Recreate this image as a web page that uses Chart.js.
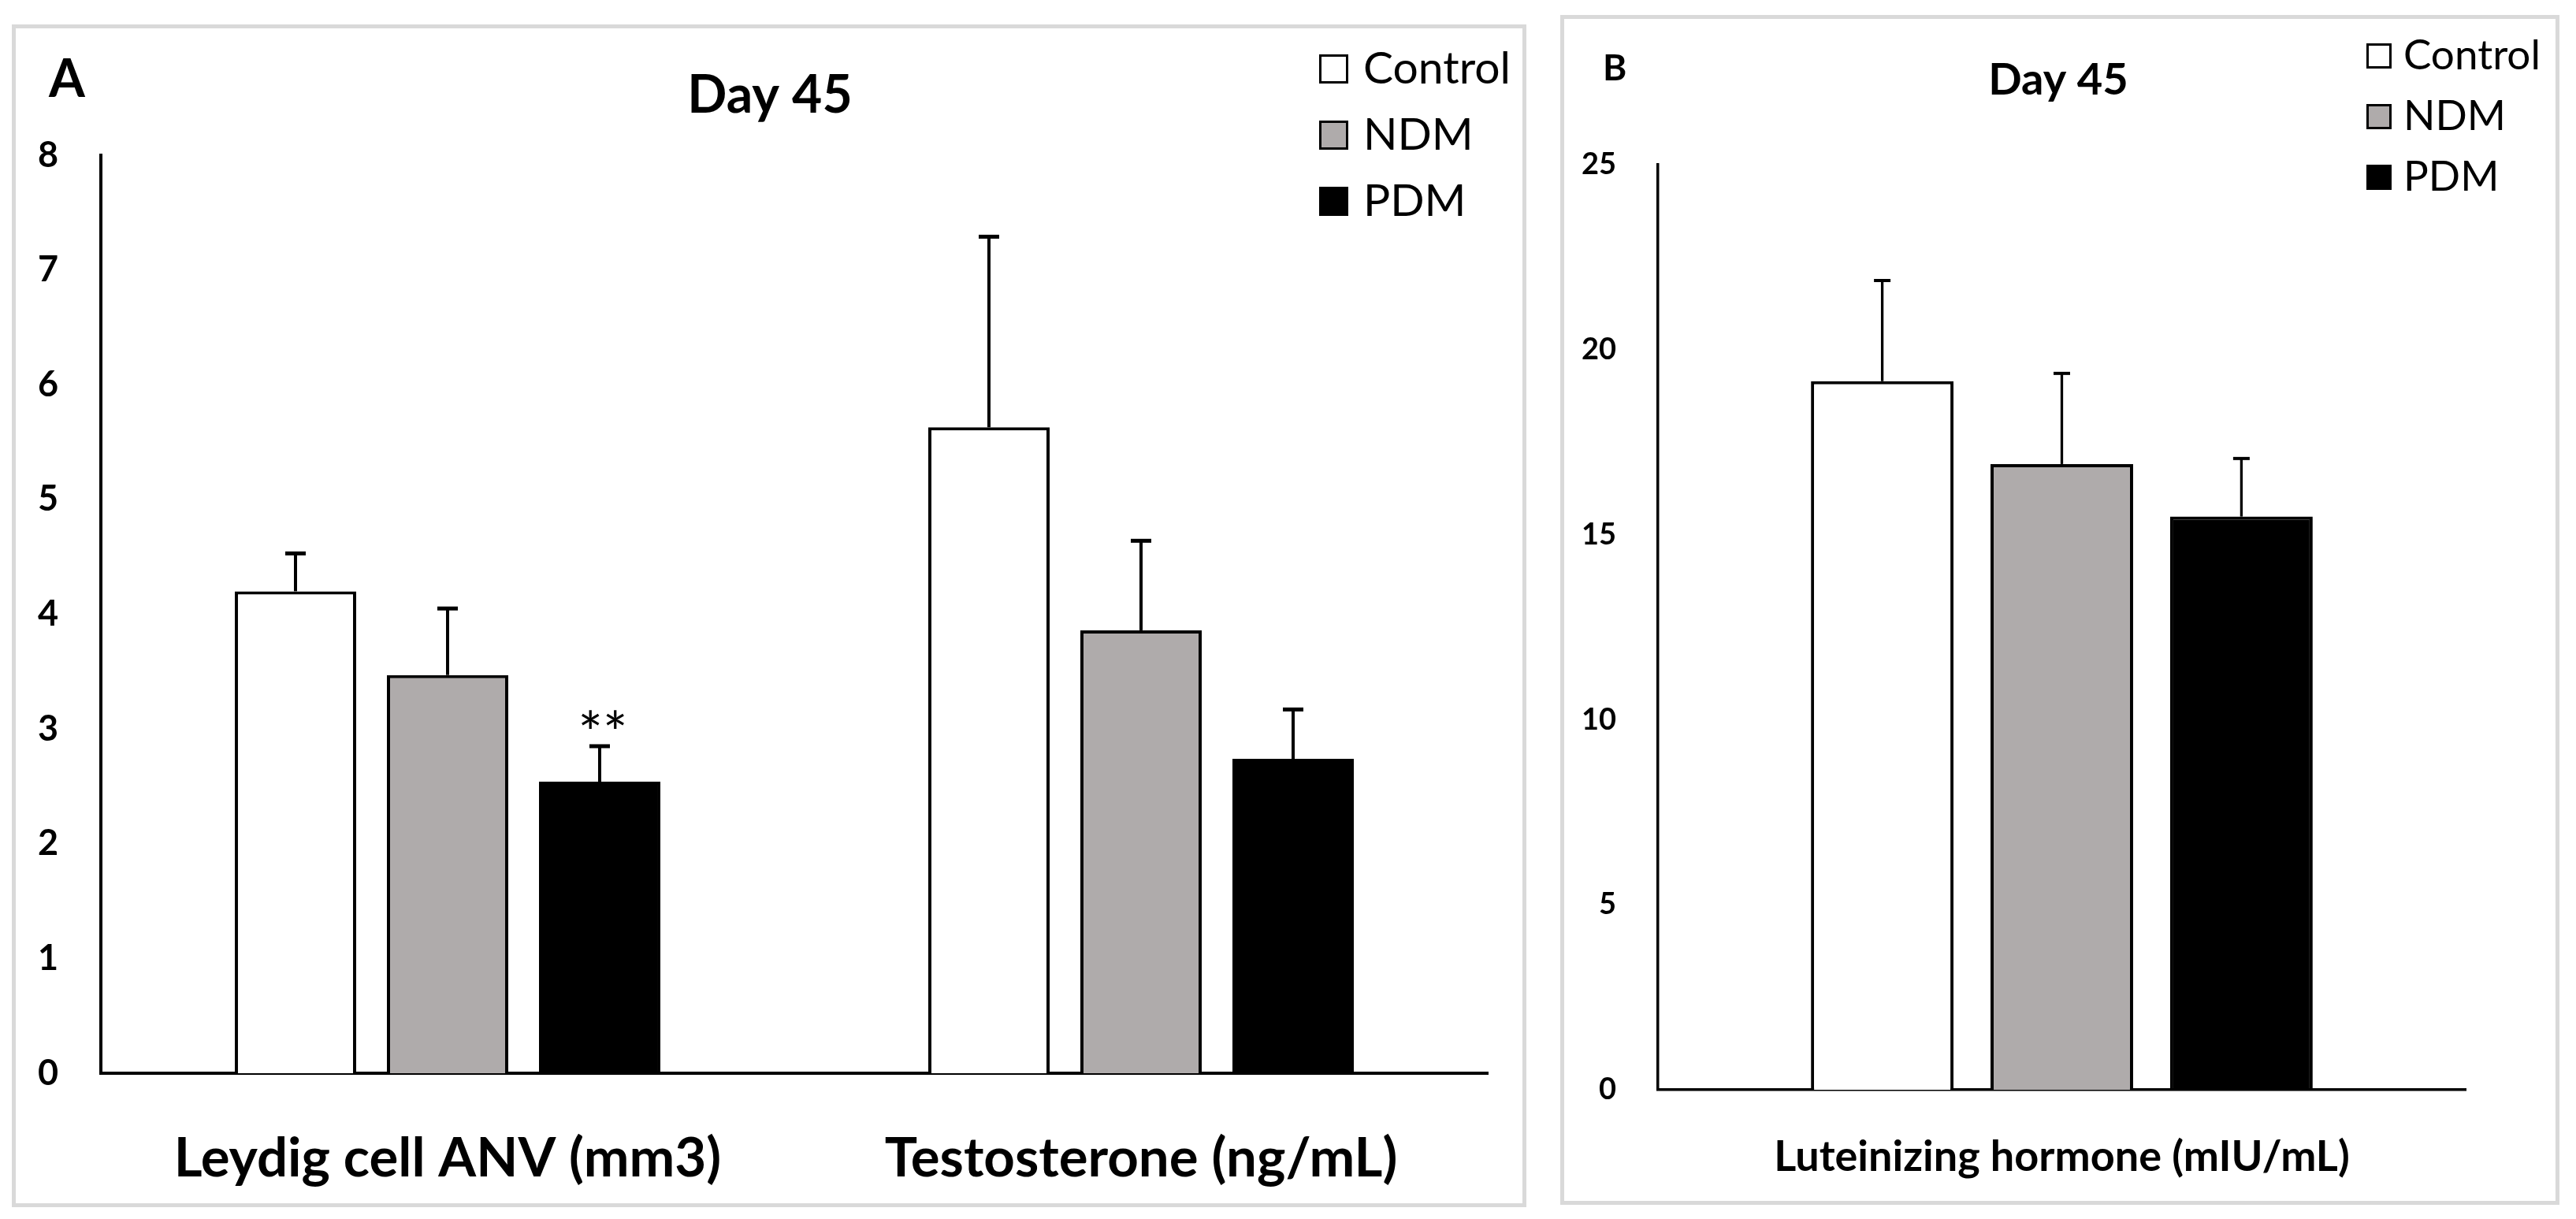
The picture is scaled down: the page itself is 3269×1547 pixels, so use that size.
<!DOCTYPE html>
<html><head><meta charset="utf-8">
<script src="https://cdn.jsdelivr.net/npm/chart.js@4.4.1/dist/chart.umd.min.js"></script>
<style>
html,body{margin:0;padding:0;background:#fff;width:3269px;height:1547px;overflow:hidden;position:relative}
.frame{position:absolute;box-sizing:border-box;border:5px solid #d9d9d9}
canvas{position:absolute}
</style></head><body>
<div class="frame" style="left:15px;top:31px;width:1922px;height:1501px"></div>
<div class="frame" style="left:1980px;top:19px;width:1268px;height:1510px"></div>
<canvas id="cA" width="1918" height="1497" style="left:17px;top:33px;width:1918px;height:1497px"></canvas>
<canvas id="cB" width="1263" height="1505" style="left:1982px;top:21px;width:1263px;height:1505px"></canvas>
<script>
// ---- data ----
const seriesNames = ["Control", "NDM", "PDM"];
const seriesColors = ["#FFFFFF", "#AFABAB", "#000000"];

const categoriesA = ["Leydig cell ANV (mm3)", "Testosterone (ng/mL)"];
const controlA = [4.20, 5.63];
const ndmA = [3.47, 3.86];
const pdmA = [2.54, 2.74];
const errControlA = [0.33, 1.66];
const errNdmA = [0.58, 0.78];
const errPdmA = [0.31, 0.43];
const sigPdmA = ["**", ""];
const yTicksA = {min: 0, max: 8, step: 1};

const categoriesB = ["Luteinizing hormone (mIU/mL)"];
const controlB = [19.15];
const ndmB = [16.91];
const pdmB = [15.49];
const errControlB = [2.72];
const errNdmB = [2.45];
const errPdmB = [1.57];
const yTicksB = {min: 0, max: 25, step: 5};

const FONT = "Lato, 'Open Sans', sans-serif";

const decor = {
  id: 'decor',
  afterDatasetsDraw(chart, args, o) {
    const ctx = chart.ctx, ys = chart.scales.y;
    chart.data.datasets.forEach((ds, di) => {
      const meta = chart.getDatasetMeta(di);
      meta.data.forEach((bar, i) => {
        const v = ds.data[i], e = ds.errors[i];
        const yTop = ys.getPixelForValue(v + e), yBar = ys.getPixelForValue(v);
        ctx.save();
        ctx.strokeStyle = '#000';
        ctx.lineWidth = o.errLine;
        ctx.beginPath(); ctx.moveTo(bar.x, yBar); ctx.lineTo(bar.x, yTop); ctx.stroke();
        ctx.lineWidth = o.capLine;
        ctx.beginPath(); ctx.moveTo(bar.x - o.capHalf, yTop); ctx.lineTo(bar.x + o.capHalf, yTop); ctx.stroke();
        const s = ds.sig && ds.sig[i];
        if (s) {
          ctx.fillStyle = '#000';
          ctx.font = o.sigFont;
          ctx.textAlign = 'center';
          ctx.textBaseline = 'alphabetic';
          ctx.fillText(s, bar.x + o.sigDx, yTop + o.sigDy);
        }
        ctx.restore();
      });
    });
  },
  afterDraw(chart, args, o) {
    const ctx = chart.ctx;
    ctx.save();
    ctx.fillStyle = '#000';
    ctx.textBaseline = 'alphabetic';
    ctx.font = o.letterFont; ctx.textAlign = 'left';
    ctx.fillText(o.letter, o.letterX, o.letterY);
    ctx.font = o.titleFont; ctx.textAlign = 'center';
    ctx.fillText(o.title, o.titleX, o.titleY);
    // legend
    chart.data.datasets.forEach((ds, di) => {
      const y = o.legY + di * o.legRow;
      ctx.fillStyle = ds.backgroundColor;
      ctx.fillRect(o.legX, y, o.legBox, o.legBox);
      ctx.strokeStyle = '#000'; ctx.lineWidth = o.legLine;
      ctx.strokeRect(o.legX + o.legLine / 2, y + o.legLine / 2, o.legBox - o.legLine, o.legBox - o.legLine);
      ctx.fillStyle = '#000';
      ctx.font = o.legFont; ctx.textAlign = 'left'; ctx.textBaseline = 'middle';
      ctx.fillText(ds.label, o.legTextX, y + o.legBox / 2);
    });
    ctx.restore();
  }
};

function makeChart(id, cats, vals, errs, sigs, yt, cfg) {
  const datasets = seriesNames.map((n, i) => ({
    label: n,
    data: vals[i],
    errors: errs[i],
    sig: sigs[i],
    backgroundColor: seriesColors[i],
    borderColor: '#000',
    borderWidth: cfg.barBorder,
    categoryPercentage: cfg.catPct,
    barPercentage: cfg.barPct
  }));
  return new Chart(document.getElementById(id), {
    type: 'bar',
    data: {labels: cats, datasets},
    options: {
      responsive: false, animation: false, devicePixelRatio: 1,
      layout: {padding: cfg.padding},
      plugins: {legend: {display: false}, tooltip: {enabled: false}, title: {display: false}, decor: cfg.decor},
      scales: {
        x: {
          grid: {display: false},
          border: {display: true, color: '#000', width: cfg.axisWidth},
          ticks: {color: '#000', font: {family: FONT, weight: 'bold', size: cfg.xFont}, padding: cfg.xPad, maxRotation: 0, autoSkip: false},
          afterFit: s => { s.height = cfg.xH; }
        },
        y: {
          min: yt.min, max: yt.max,
          grid: {display: false},
          border: {display: true, color: '#000', width: cfg.axisWidth},
          ticks: {stepSize: yt.step, color: '#000', font: {family: FONT, weight: 'bold', size: cfg.yFont}, padding: cfg.yPad},
          afterFit: s => { s.width = cfg.yW; }
        }
      }
    },
    plugins: [decor]
  });
}

makeChart('cA', categoriesA, [controlA, ndmA, pdmA], [errControlA, errNdmA, errPdmA], [null, null, sigPdmA], yTicksA, {
  barBorder: 4, catPct: 0.658, barPct: 0.798, axisWidth: 4,
  padding: {left: 11, right: 47, top: 164, bottom: 18},
  xFont: 69, xPad: 59, xH: 150, yFont: 45, yPad: 46, yW: 100,
  decor: {
    errLine: 4, capLine: 5, capHalf: 13, sigFont: "74px " + FONT, sigDx: 4, sigDy: 10,
    letter: 'A', letterFont: "bold 66px " + FONT, letterX: 45, letterY: 90,
    title: 'Day 45', titleFont: "bold 66px " + FONT, titleX: 960, titleY: 110,
    legX: 1657, legY: 36, legRow: 84, legBox: 37, legLine: 3, legTextX: 1713, legFont: "57px " + FONT
  }
});

makeChart('cB', categoriesB, [controlB, ndmB, pdmB], [errControlB, errNdmB, errPdmB], [null, null, null], yTicksB, {
  barBorder: 4, catPct: 0.667, barPct: 0.794, axisWidth: 3.5,
  padding: {left: 22, right: 116, top: 188, bottom: 13},
  xFont: 54, xPad: 45, xH: 130, yFont: 38, yPad: 45, yW: 100,
  decor: {
    errLine: 3.3, capLine: 4, capHalf: 10.5, sigFont: "56px " + FONT, sigDx: 0, sigDy: 8,
    letter: 'B', letterFont: "bold 46px " + FONT, letterX: 52, letterY: 81,
    title: 'Day 45', titleFont: "bold 56px " + FONT, titleX: 630, titleY: 99,
    legX: 1021, legY: 34, legRow: 77, legBox: 32, legLine: 3, legTextX: 1068, legFont: "53px " + FONT
  }
});
</script>
</body></html>
